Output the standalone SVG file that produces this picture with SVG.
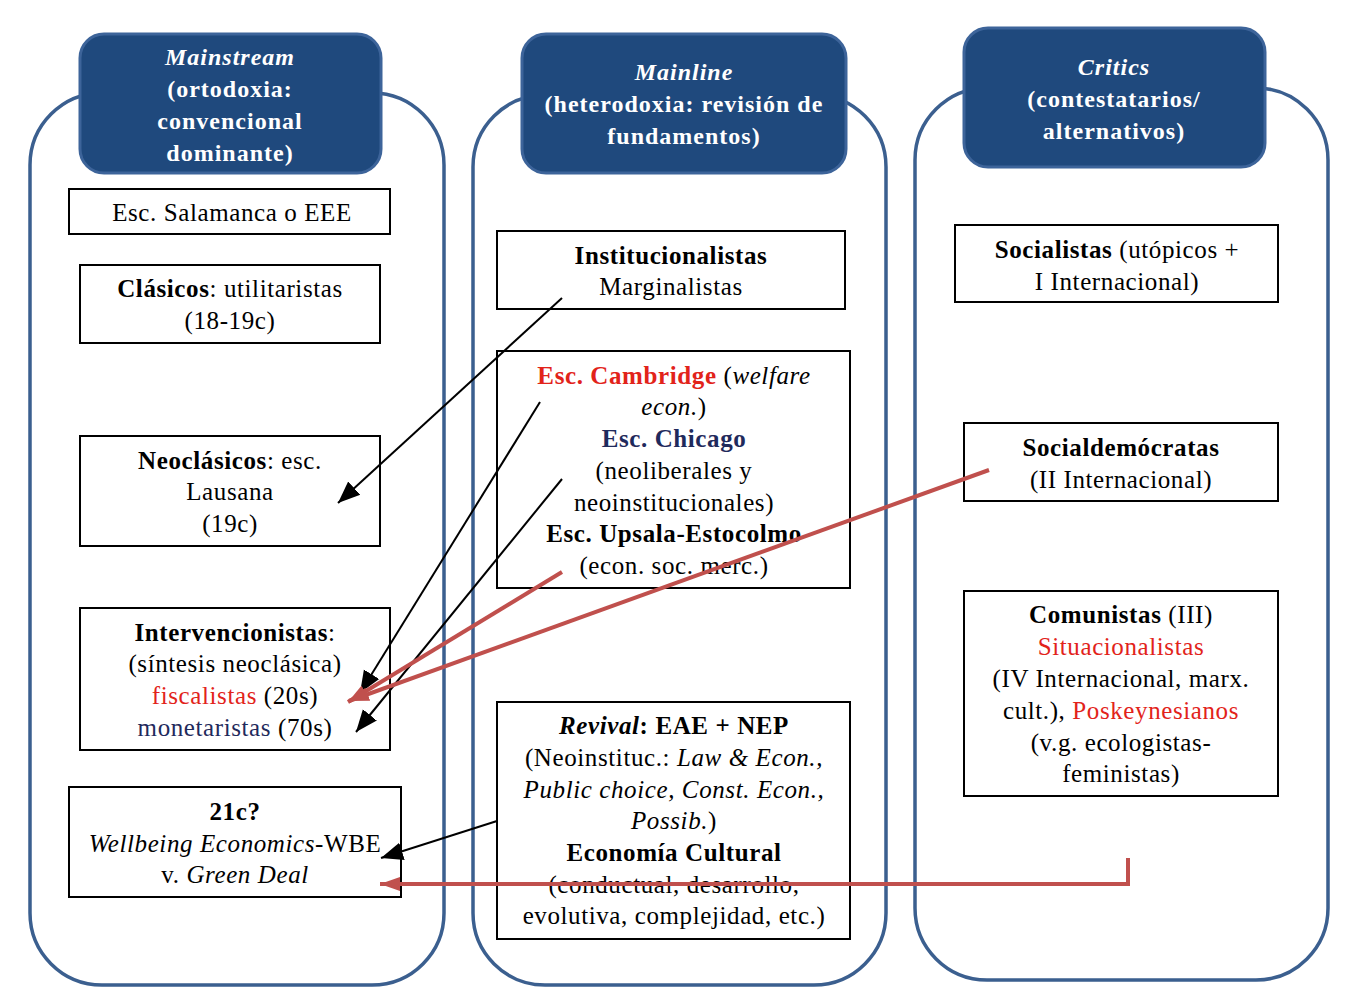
<svg xmlns="http://www.w3.org/2000/svg" width="1358" height="1000" viewBox="0 0 1358 1000">
<style>
.col{fill:none;stroke:#3b5f8f;stroke-width:3.5}
.hdr{fill:#1f497d;stroke:#3d649a;stroke-width:3}
.ht{font-family:"Liberation Serif",serif;font-weight:bold;font-size:24px;letter-spacing:1px;fill:#fff;text-anchor:middle}
.box{fill:#fff;stroke:#000;stroke-width:2}
.t{font-family:"Liberation Serif",serif;font-size:25px;letter-spacing:0.6px;fill:#000;text-anchor:middle}
.b{font-weight:bold}
.i{font-style:italic}
.red{fill:#e2231a}
.navy{fill:#1f2a5c}
.blk{stroke:#000;stroke-width:2;fill:none}
.rd{stroke:#c0504d;stroke-width:4;fill:none}
</style>
<defs>
<marker id="ab" markerUnits="userSpaceOnUse" markerWidth="24" markerHeight="20" refX="22" refY="9" orient="auto" viewBox="0 0 24 18">
<path d="M0,0 L22,9 L0,18 Z" fill="#000"/>
</marker>
<marker id="ar" markerUnits="userSpaceOnUse" markerWidth="22" markerHeight="16" refX="20" refY="7" orient="auto" viewBox="0 0 22 14">
<path d="M0,0 L20,7 L0,14 Z" fill="#c0504d"/>
</marker>
</defs>
<rect width="1358" height="1000" fill="#fff"/>

<g id="col-mainstream">
<rect class="col" x="30" y="93" width="414" height="892" rx="72"/>
<rect class="hdr" x="80" y="34" width="301" height="139" rx="24"/>
<text class="ht"><tspan x="230" y="65" class="i">Mainstream</tspan><tspan x="230" y="97">(ortodoxia:</tspan><tspan x="230" y="129">convencional</tspan><tspan x="230" y="161">dominante)</tspan></text>
</g>
<g id="col-mainline">
<rect class="col" x="473" y="95" width="413" height="890" rx="72"/>
<rect class="hdr" x="522" y="34" width="324" height="139" rx="24"/>
<text class="ht"><tspan x="684" y="80" class="i">Mainline</tspan><tspan x="684" y="112">(heterodoxia: revisión de</tspan><tspan x="684" y="144">fundamentos)</tspan></text>
</g>
<g id="col-critics">
<rect class="col" x="915" y="88" width="413" height="892" rx="72"/>
<rect class="hdr" x="964" y="28" width="301" height="139" rx="24"/>
<text class="ht"><tspan x="1114" y="75" class="i">Critics</tspan><tspan x="1114" y="107">(contestatarios/</tspan><tspan x="1114" y="139">alternativos)</tspan></text>
</g>

<g id="n-salamanca">
<rect class="box" x="69" y="189" width="321" height="45"/>
<text class="t" x="232" y="221">Esc. Salamanca o EEE</text>
</g>
<g id="n-clasicos">
<rect class="box" x="80" y="265" width="300" height="78"/>
<text class="t"><tspan x="230" y="297"><tspan class="b">Clásicos</tspan>: utilitaristas</tspan><tspan x="230" y="329">(18-19c)</tspan></text>
</g>
<g id="n-neoclasicos">
<rect class="box" x="80" y="436" width="300" height="110"/>
<text class="t"><tspan x="230" y="469"><tspan class="b">Neoclásicos</tspan>: esc.</tspan><tspan x="230" y="500">Lausana</tspan><tspan x="230" y="532">(19c)</tspan></text>
</g>
<g id="n-intervencionistas">
<rect class="box" x="80" y="608" width="310" height="142"/>
<text class="t"><tspan x="235" y="641"><tspan class="b">Intervencionistas</tspan>:</tspan><tspan x="235" y="672">(síntesis neoclásica)</tspan><tspan x="235" y="704"><tspan class="red">fiscalistas</tspan> (20s)</tspan><tspan x="235" y="736"><tspan class="navy">monetaristas</tspan> (70s)</tspan></text>
</g>
<g id="n-21c">
<rect class="box" x="69" y="787" width="332" height="110"/>
<text class="t"><tspan x="235" y="820" class="b">21c?</tspan><tspan x="235" y="852"><tspan class="i">Wellbeing Economics</tspan>-WBE</tspan><tspan x="235" y="883">v. <tspan class="i">Green Deal</tspan></tspan></text>
</g>

<g id="n-institucionalistas">
<rect class="box" x="497" y="231" width="348" height="78"/>
<text class="t"><tspan x="671" y="264" class="b">Institucionalistas</tspan><tspan x="671" y="295">Marginalistas</tspan></text>
</g>
<g id="n-cambridge">
<rect class="box" x="497" y="351" width="353" height="237"/>
<text class="t"><tspan x="674" y="384"><tspan class="b red">Esc. Cambridge</tspan> (<tspan class="i">welfare</tspan></tspan><tspan x="674" y="415"><tspan class="i">econ.</tspan>)</tspan><tspan x="674" y="447" class="b navy">Esc. Chicago</tspan><tspan x="674" y="479">(neoliberales y</tspan><tspan x="674" y="511">neoinstitucionales)</tspan><tspan x="674" y="542" class="b">Esc. Upsala-Estocolmo</tspan><tspan x="674" y="574">(econ. soc. merc.)</tspan></text>
</g>
<g id="n-revival">
<rect class="box" x="497" y="702" width="353" height="237"/>
<text class="t"><tspan x="674" y="734"><tspan class="b i">Revival</tspan><tspan class="b">: EAE + NEP</tspan></tspan><tspan x="674" y="766">(Neoinstituc.: <tspan class="i">Law &amp; Econ.,</tspan></tspan><tspan x="674" y="798" class="i">Public choice, Const. Econ.,</tspan><tspan x="674" y="829"><tspan class="i">Possib.</tspan>)</tspan><tspan x="674" y="861" class="b">Economía Cultural</tspan><tspan x="674" y="893">(conductual, desarrollo,</tspan><tspan x="674" y="924">evolutiva, complejidad, etc.)</tspan></text>
</g>

<g id="n-socialistas">
<rect class="box" x="955" y="225" width="323" height="77"/>
<text class="t"><tspan x="1117" y="258"><tspan class="b">Socialistas</tspan> (utópicos +</tspan><tspan x="1117" y="290">I Internacional)</tspan></text>
</g>
<g id="n-socialdemocratas">
<rect class="box" x="964" y="423" width="314" height="78"/>
<text class="t"><tspan x="1121" y="456" class="b">Socialdemócratas</tspan><tspan x="1121" y="488">(II Internacional)</tspan></text>
</g>
<g id="n-comunistas">
<rect class="box" x="964" y="591" width="314" height="205"/>
<text class="t"><tspan x="1121" y="623"><tspan class="b">Comunistas</tspan> (III)</tspan><tspan x="1121" y="655" class="red">Situacionalistas</tspan><tspan x="1121" y="687">(IV Internacional, marx.</tspan><tspan x="1121" y="719">cult.), <tspan class="red">Poskeynesianos</tspan></tspan><tspan x="1121" y="751">(v.g. ecologistas-</tspan><tspan x="1121" y="782">feministas)</tspan></text>
</g>

<g id="connectors">
<line class="blk" x1="562" y1="298" x2="338" y2="503" marker-end="url(#ab)"/>
<line class="blk" x1="540" y1="402" x2="360" y2="693" marker-end="url(#ab)"/>
<line class="blk" x1="562" y1="479" x2="356" y2="732" marker-end="url(#ab)"/>
<line class="blk" x1="497" y1="821" x2="381" y2="858" marker-end="url(#ab)"/>
<line class="rd" x1="562" y1="572" x2="348" y2="702" marker-end="url(#ar)"/>
<line class="rd" x1="989" y1="470" x2="349" y2="701" marker-end="url(#ar)"/>
<polyline class="rd" points="1128,858 1128,884 380,884" marker-end="url(#ar)"/>
</g>
</svg>
